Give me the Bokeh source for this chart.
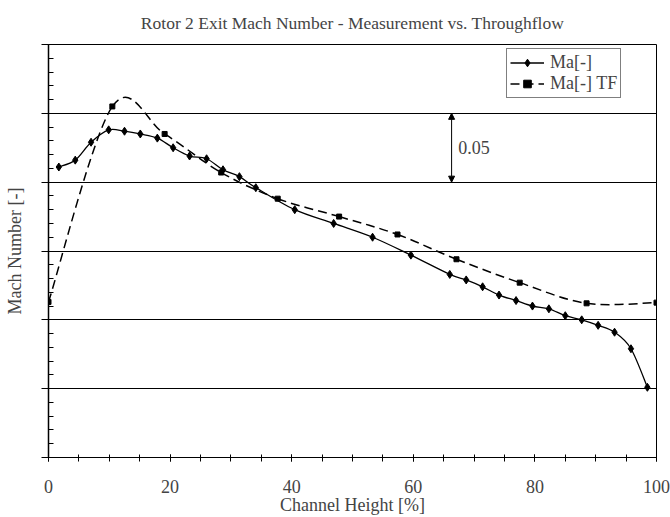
from bokeh.plotting import figure
from bokeh.models import (ColumnDataSource, Legend, LegendItem, Arrow, NormalHead,
                          Label, FixedTicker, Range1d, CustomJSTickFormatter)
from bokeh.embed import file_html
from bokeh.resources import INLINE

# ---- data ----
x_meas = [1.7, 4.4, 7.0, 9.9, 12.5, 15.1, 17.9, 20.5, 23.2, 26.0, 28.7, 31.4, 34.1,
          40.5, 46.9, 53.3, 59.6, 66.0, 68.7, 71.4, 74.1, 76.9, 79.6, 82.3, 85.0,
          87.7, 90.4, 93.1, 95.8, 98.5]
ma_meas = [0.561, 0.566, 0.579, 0.588, 0.587, 0.585, 0.582, 0.575, 0.569, 0.567,
           0.559, 0.554, 0.546, 0.530, 0.520, 0.510, 0.497, 0.483, 0.479, 0.474,
           0.468, 0.464, 0.460, 0.458, 0.453, 0.450, 0.446, 0.441, 0.429, 0.401]
x_tf = [0.0, 10.5, 19.1, 28.4, 37.7, 47.8, 57.4, 67.1, 77.5, 88.5, 100.0]
ma_tf = [0.463, 0.605, 0.585, 0.557, 0.538, 0.525, 0.512, 0.494, 0.477, 0.462, 0.4625]

x_ticks = [0, 20, 40, 60, 80, 100]
x_minor = list(range(0, 101, 5))
y_major = [0.35, 0.40, 0.45, 0.50, 0.55, 0.60, 0.65]
y_minor = [round(0.35 + 0.01 * i, 2) for i in range(31)]
y_grid = [0.40, 0.45, 0.50, 0.55, 0.60]

scale_bar = {"x": 66.3, "y0": 0.60, "y1": 0.55, "label": "0.05"}

FONT = "Liberation Serif"


def smooth(xs, ys):
    """Cubic Bezier segments through the data points (Catmull-Rom style)."""
    n = len(xs)
    d = dict(x0=[], y0=[], x1=[], y1=[], cx0=[], cy0=[], cx1=[], cy1=[])
    for i in range(n - 1):
        pm = max(i - 1, 0)
        pp = min(i + 2, n - 1)
        d["x0"].append(xs[i]); d["y0"].append(ys[i])
        d["x1"].append(xs[i + 1]); d["y1"].append(ys[i + 1])
        d["cx0"].append(xs[i] + (xs[i + 1] - xs[pm]) / 6.0)
        d["cy0"].append(ys[i] + (ys[i + 1] - ys[pm]) / 6.0)
        d["cx1"].append(xs[i + 1] - (xs[pp] - xs[i]) / 6.0)
        d["cy1"].append(ys[i + 1] - (ys[pp] - ys[i]) / 6.0)
    return ColumnDataSource(d)


p = figure(width=670, height=517, x_range=Range1d(0, 100), y_range=Range1d(0.35, 0.65),
           output_backend="svg", toolbar_location=None,
           min_border_left=48, min_border_right=14, min_border_top=44, min_border_bottom=59)

p.title.text = "Rotor 2 Exit Mach Number - Measurement vs. Throughflow"
p.title.text_font = FONT
p.title.text_font_size = "17.5px"
p.title.text_font_style = "normal"
p.title.align = "center"
p.title.vertical_align = "top"
p.title.standoff = 20

p.outline_line_color = "black"
p.outline_line_width = 1
p.background_fill_color = "white"
p.border_fill_color = "white"

# x axis
xa = p.xaxis[0]
xa.ticker = FixedTicker(ticks=x_ticks, minor_ticks=x_minor)
xa.axis_label = "Channel Height [%]"
xa.axis_label_text_font = FONT
xa.axis_label_text_font_size = "18px"
xa.axis_label_text_font_style = "normal"
xa.major_label_text_font = FONT
xa.major_label_text_font_size = "18px"
xa.major_tick_in = 3
xa.major_tick_out = 4
xa.minor_tick_in = 3
xa.minor_tick_out = 4
xa.major_label_standoff = 18
xa.axis_label_standoff = -1
xa.axis_line_color = "black"
xa.major_tick_line_color = "black"
xa.minor_tick_line_color = "black"

# y axis
ya = p.yaxis[0]
ya.ticker = FixedTicker(ticks=y_major, minor_ticks=y_minor)
ya.formatter = CustomJSTickFormatter(code="return ''")
ya.axis_label = "Mach Number [-]"
ya.axis_label_text_font = FONT
ya.axis_label_text_font_size = "18px"
ya.axis_label_text_font_style = "normal"
ya.major_tick_in = 0
ya.major_tick_out = 7
ya.minor_tick_in = 5
ya.minor_tick_out = 0
ya.major_label_standoff = 0
ya.axis_label_standoff = 17
ya.axis_line_color = "black"
ya.axis_line_width = 1.5
ya.major_tick_line_color = "black"
ya.minor_tick_line_color = "black"

p.xgrid.visible = False
p.ygrid.ticker = FixedTicker(ticks=y_grid)
p.ygrid.grid_line_color = "black"
p.ygrid.grid_line_alpha = 1.0
p.ygrid.grid_line_width = 1

# series
src_m = smooth(x_meas, ma_meas)
src_t = smooth(x_tf, ma_tf)
r_m_line = p.bezier(x0="x0", y0="y0", x1="x1", y1="y1", cx0="cx0", cy0="cy0",
                    cx1="cx1", cy1="cy1", source=src_m, line_color="black", line_width=1.3)
r_m_pts = p.scatter(x_meas, ma_meas, marker="diamond", size=8, color="black")
r_t_line = p.bezier(x0="x0", y0="y0", x1="x1", y1="y1", cx0="cx0", cy0="cy0",
                    cx1="cx1", cy1="cy1", source=src_t, line_color="black", line_width=1.5,
                    line_dash="9 5")
r_t_pts = p.scatter(x_tf, ma_tf, marker="square", size=5, color="black")

legend = Legend(items=[LegendItem(label="Ma[-]", renderers=[r_m_line, r_m_pts], index=0),
                       LegendItem(label="Ma[-] TF", renderers=[r_t_line, r_t_pts], index=0)],
                location=(458, 359))
legend.border_line_color = "black"
legend.border_line_width = 1
legend.background_fill_color = "white"
legend.background_fill_alpha = 1
legend.label_text_font = FONT
legend.label_text_font_size = "18px"
legend.padding = 3
legend.spacing = 0
legend.margin = 0
legend.glyph_width = 34
legend.glyph_height = 19
legend.label_height = 19
legend.label_standoff = 6
p.add_layout(legend)

# scale bar annotation
p.add_layout(Arrow(x_start=scale_bar["x"], y_start=scale_bar["y0"],
                   x_end=scale_bar["x"], y_end=scale_bar["y1"],
                   start=NormalHead(size=6, fill_color="black", line_color="black"),
                   end=NormalHead(size=6, fill_color="black", line_color="black"),
                   line_color="black", line_width=1))
p.add_layout(Label(x=scale_bar["x"] + 1.1, y=(scale_bar["y0"] + scale_bar["y1"]) / 2,
                   text=scale_bar["label"], text_font=FONT, text_font_size="18px",
                   text_baseline="middle", text_align="left"))

open("out.html", "w").write(file_html(p, INLINE))
